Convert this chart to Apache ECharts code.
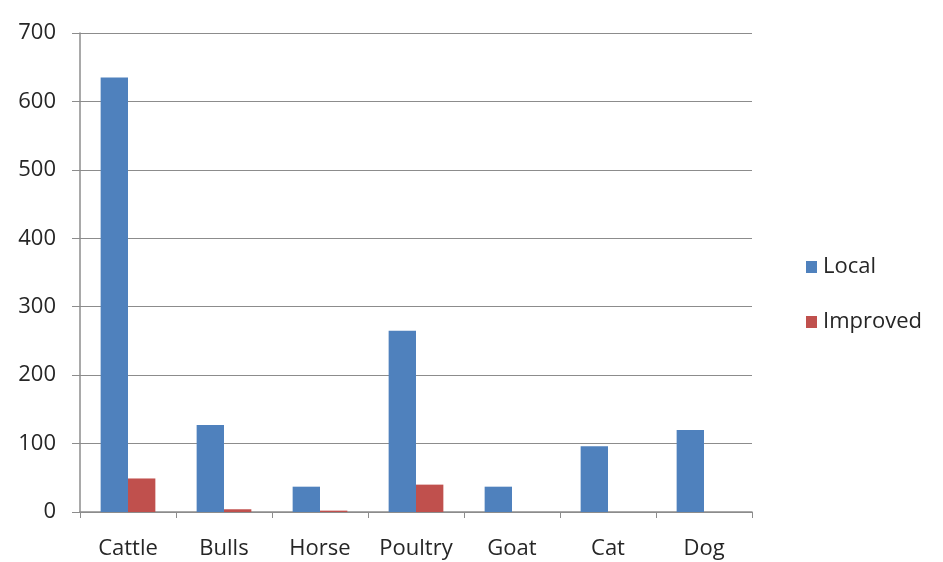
<!DOCTYPE html>
<html>
<head>
<meta charset="utf-8">
<script src="https://cdn.jsdelivr.net/npm/echarts@6/dist/echarts.min.js"></script>
<style>
  html, body { margin: 0; padding: 0; background: #fff; }
  #chart { width: 943px; height: 562px; }
</style>
</head>
<body>
<div id="chart"></div>
<script>
const categories = ['Cattle', 'Bulls', 'Horse', 'Poultry', 'Goat', 'Cat', 'Dog'];
const localValues = [635, 127, 37, 265, 37, 96, 120];
const improvedValues = [49, 4, 2, 40, 0, 0, 0];
const yTicks = [0, 100, 200, 300, 400, 500, 600, 700];

const fontFamily = '"Open Sans", "Liberation Sans", sans-serif';
const axisGray = '#8c8c8c';
const textColor = '#262626';

const chart = echarts.init(document.getElementById('chart'));
chart.setOption({
  animation: false,
  backgroundColor: '#fff',
  grid: { left: 80, right: 191, top: 33, bottom: 50, containLabel: false },
  legend: {
    orient: 'vertical',
    left: 801,
    top: 251,
    itemWidth: 11,
    itemHeight: 12,
    itemGap: 33,
    icon: 'rect',
    textStyle: { fontFamily, fontSize: 22, color: textColor, padding: [0, 0, 0, 1] },
    data: ['Local', 'Improved']
  },
  xAxis: {
    type: 'category',
    data: categories,
    axisLine: { lineStyle: { color: axisGray, width: 1.5 } },
    axisTick: { show: true, alignWithLabel: false, length: 6, lineStyle: { color: axisGray } },
    axisLabel: { fontFamily, fontSize: 22, color: textColor, margin: 26 }
  },
  yAxis: {
    type: 'value',
    min: yTicks[0],
    max: yTicks[yTicks.length - 1],
    interval: 100,
    axisLine: { show: true, lineStyle: { color: axisGray, width: 1.5 } },
    axisTick: { show: true, inside: false, length: 8, lineStyle: { color: axisGray } },
    axisLabel: { fontFamily, fontSize: 22, color: textColor, margin: 24 },
    splitLine: { lineStyle: { color: axisGray, width: 1.2 } }
  },
  series: [
    {
      name: 'Local',
      type: 'bar',
      data: localValues,
      itemStyle: { color: '#4F81BD' },
      barGap: '0%',
      barCategoryGap: '43%'
    },
    {
      name: 'Improved',
      type: 'bar',
      data: improvedValues,
      itemStyle: { color: '#C0504D' },
      barGap: '0%',
      barCategoryGap: '43%'
    }
  ]
});
</script>
</body>
</html>
